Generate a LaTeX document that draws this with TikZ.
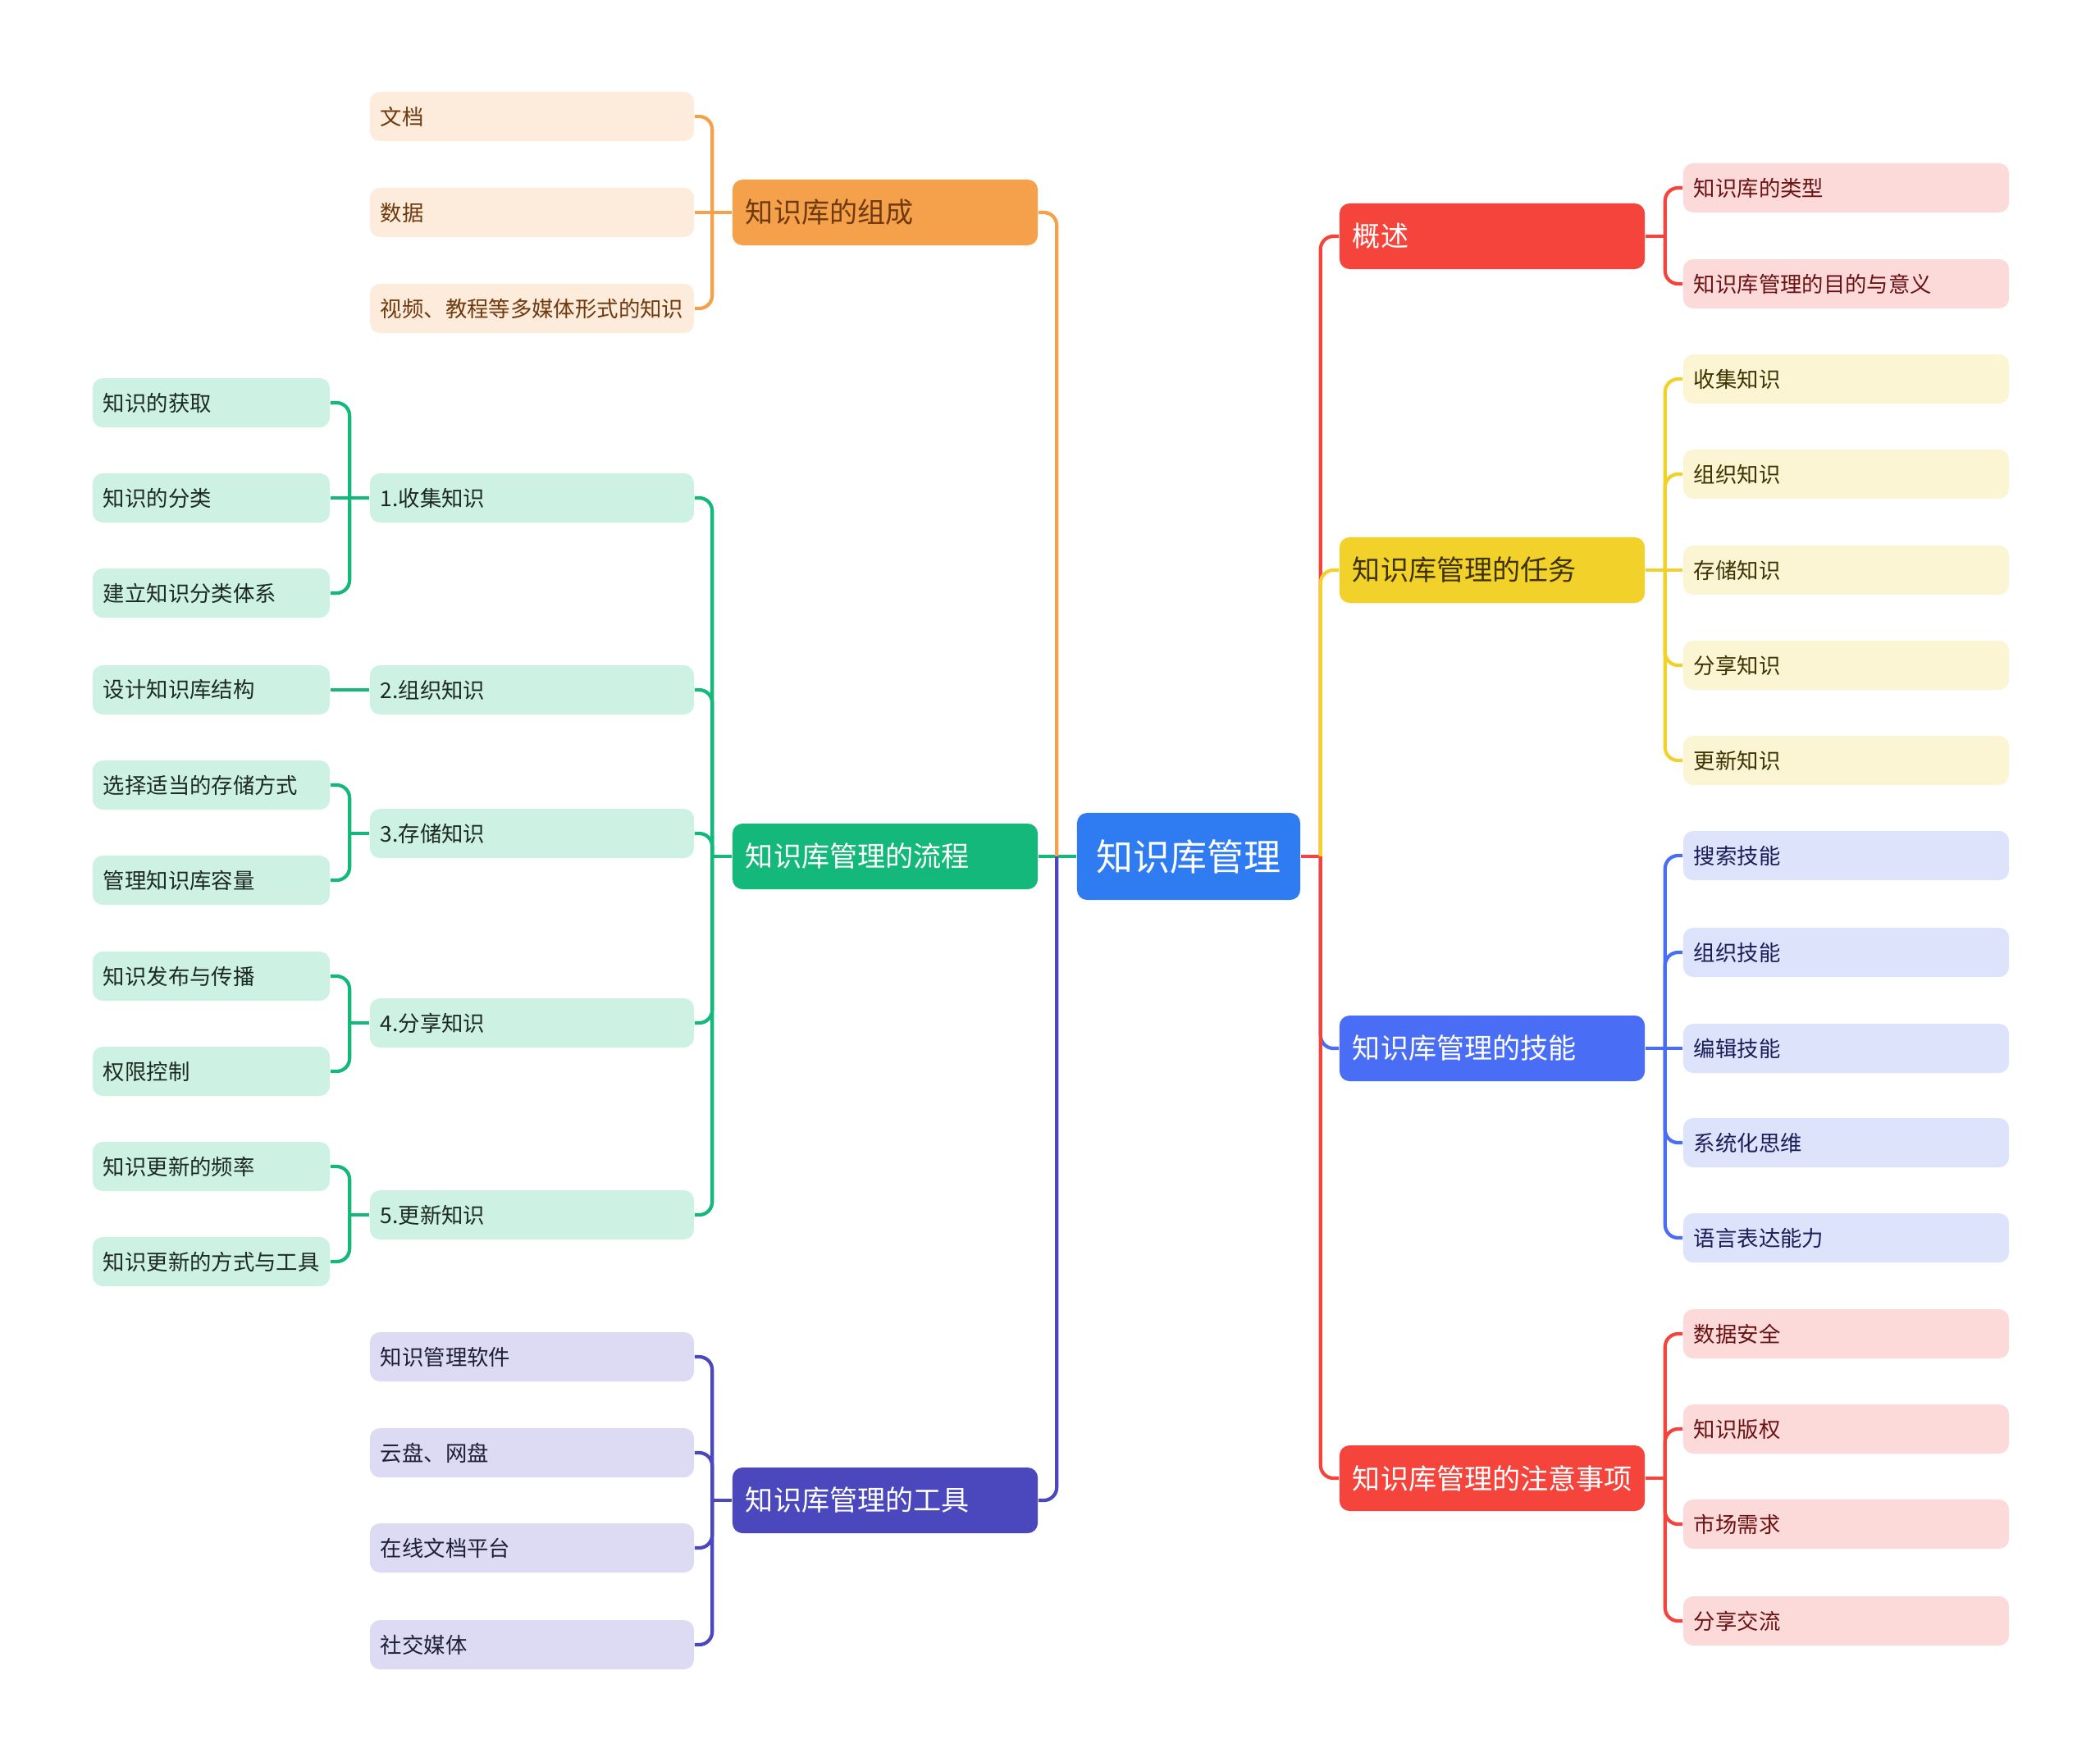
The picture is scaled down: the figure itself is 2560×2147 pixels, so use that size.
\documentclass[tikz,border=0pt]{standalone}
\usepackage{fontspec}
\usepackage{tikz}
\usetikzlibrary{positioning,calc}
\newfontfamily\cjk{Noto Sans CJK SC}
\definecolor{rootBlue}{HTML}{2E7BF2}
\definecolor{oMain}{HTML}{F5A04A}
\definecolor{oLight}{HTML}{FDEBDB}
\definecolor{oText}{HTML}{6E3A0E}
\definecolor{gMain}{HTML}{14B87A}
\definecolor{gLight}{HTML}{CDF1E2}
\definecolor{gText}{HTML}{1C2A22}
\definecolor{iMain}{HTML}{4B47BD}
\definecolor{iLight}{HTML}{DCDBF3}
\definecolor{iText}{HTML}{1F1F3A}
\definecolor{rMain}{HTML}{F5443C}
\definecolor{rLight}{HTML}{FDDADA}
\definecolor{rText}{HTML}{6B1212}
\definecolor{yMain}{HTML}{F2D12A}
\definecolor{yLight}{HTML}{FCF5D4}
\definecolor{yText}{HTML}{3D3300}
\definecolor{bMain}{HTML}{4A6DF6}
\definecolor{bLight}{HTML}{DCE3FB}
\definecolor{bText}{HTML}{1A1F5A}
\tikzset{
	rootbox/.style={
		fill=rootBlue, text=white, rounded corners=3.5pt,
		minimum width=2.72cm, minimum height=1.06cm,
		font=\cjk\fontsize{12.8}{15}\selectfont
	},
	mainbox/.style={
		rounded corners=3.5pt, inner xsep=0.16cm, inner ysep=0pt,
		text width=3.40cm, align=left, minimum height=0.8cm,
		font=\cjk\fontsize{9.7}{12}\selectfont
	},
	leafbox/.style={
		rounded corners=3.5pt, inner xsep=0.13cm, inner ysep=0pt,
		align=left, minimum height=0.6cm,
		font=\cjk\fontsize{7.5}{9}\selectfont
	},
	leafR/.style={leafbox, text width=3.71cm},
	leafM/.style={leafbox, text width=3.69cm},
	leafL/.style={leafbox, text width=2.63cm},
	link/.style={line width=1.2pt},
	elbow/.style={link, rounded corners=4.5pt}
}
\begin{document}
\begin{tikzpicture}[x=0.01cm, y=-0.01cm]
	\useasboundingbox (0,0) rectangle (2560,2147);
	% centre
	\node[rootbox] (root) at (1449,1044) {知识库管理};
	% main branches
	\node[mainbox, fill=oMain, text=oText] (zc) at (1079,259) {知识库的组成};
	\node[mainbox, fill=gMain, text=white] (lc) at (1079,1044) {知识库管理的流程};
	\node[mainbox, fill=iMain, text=white] (gj) at (1079,1829) {知识库管理的工具};
	\node[mainbox, fill=rMain, text=white] (gs) at (1819,288) {概述};
	\node[mainbox, fill=yMain, text=yText] (rw) at (1819,695) {知识库管理的任务};
	\node[mainbox, fill=bMain, text=white] (jn) at (1819,1278) {知识库管理的技能};
	\node[mainbox, fill=rMain, text=white] (zy) at (1819,1802) {知识库管理的注意事项};
	% right leaves
	\foreach \t/\y [count=\i] in {知识库的类型/229, 知识库管理的目的与意义/346}
		\node[leafR, fill=rLight, text=rText] (gs-\i) at (2250.5,\y) {\t};
	\foreach \t/\y [count=\i] in {收集知识/462, 组织知识/578, 存储知识/695, 分享知识/811, 更新知识/927}
		\node[leafR, fill=yLight, text=yText] (rw-\i) at (2250.5,\y) {\t};
	\foreach \t/\y [count=\i] in {搜索技能/1043, 组织技能/1161, 编辑技能/1278, 系统化思维/1393, 语言表达能力/1509}
		\node[leafR, fill=bLight, text=bText] (jn-\i) at (2250.5,\y) {\t};
	\foreach \t/\y [count=\i] in {数据安全/1626, 知识版权/1742, 市场需求/1858, 分享交流/1976}
		\node[leafR, fill=rLight, text=rText] (zy-\i) at (2250.5,\y) {\t};
	% left leaves
	\foreach \t/\y [count=\i] in {文档/142, 数据/259, 视频、教程等多媒体形式的知识/376}
		\node[leafM, fill=oLight, text=oText] (zc-\i) at (648.5,\y) {\t};
	\foreach \t/\y [count=\i] in {1.收集知识/607, 2.组织知识/841, 3.存储知识/1016, 4.分享知识/1247, 5.更新知识/1481}
		\node[leafM, fill=gLight, text=gText] (lc-\i) at (648.5,\y) {\t};
	\foreach \t/\y [count=\i] in {知识管理软件/1654, 云盘、网盘/1771, 在线文档平台/1887, 社交媒体/2005}
		\node[leafM, fill=iLight, text=iText] (gj-\i) at (648.5,\y) {\t};
	% outer leaves of the process
	\foreach \t/\y [count=\i] in {知识的获取/491, 知识的分类/607, 建立知识分类体系/723}
		\node[leafL, fill=gLight, text=gText] (sj-\i) at (257.5,\y) {\t};
	\node[leafL, fill=gLight, text=gText] (zz-1) at (257.5,841) {设计知识库结构};
	\foreach \t/\y [count=\i] in {选择适当的存储方式/957, 管理知识库容量/1073}
		\node[leafL, fill=gLight, text=gText] (cc-\i) at (257.5,\y) {\t};
	\foreach \t/\y [count=\i] in {知识发布与传播/1190, 权限控制/1306}
		\node[leafL, fill=gLight, text=gText] (fx-\i) at (257.5,\y) {\t};
	\foreach \t/\y [count=\i] in {知识更新的频率/1422, 知识更新的方式与工具/1538}
		\node[leafL, fill=gLight, text=gText] (gx-\i) at (257.5,\y) {\t};
	% stubs to the buses
	\draw[link, gMain] (root.west) -- (lc.east);
	\draw[link, rMain] (root.east) -- ++(24,0) coordinate (root-r);
	\coordinate (root-l) at ($(root.west)+(-24,0)$);
	\draw[link, rMain] (gs.east) -- ++(24,0) coordinate (gs-b);
	\draw[link, yMain] (rw.east) -- (rw-3.west);
	\coordinate (rw-b) at ($(rw.east)+(24,0)$);
	\draw[link, bMain] (jn.east) -- (jn-3.west);
	\coordinate (jn-b) at ($(jn.east)+(24,0)$);
	\draw[link, rMain] (zy.east) -- ++(24,0) coordinate (zy-b);
	\draw[link, oMain] (zc.west) -- (zc-2.east);
	\coordinate (zc-b) at ($(zc.west)+(-24,0)$);
	\draw[link, gMain] (lc.west) -- ++(-24,0) coordinate (lc-b);
	\draw[link, iMain] (gj.west) -- ++(-24,0) coordinate (gj-b);
	\draw[link, gMain] (lc-1.west) -- (sj-2.east);
	\coordinate (sj-b) at ($(lc-1.west)+(-24,0)$);
	\draw[link, gMain] (lc-2.west) -- (zz-1.east);
	\draw[link, gMain] (lc-3.west) -- ++(-24,0) coordinate (cc-b);
	\draw[link, gMain] (lc-4.west) -- ++(-24,0) coordinate (fx-b);
	\draw[link, gMain] (lc-5.west) -- ++(-24,0) coordinate (gx-b);
	% elbows from the centre
	\draw[elbow, oMain] (root-l) |- (zc.east);
	\draw[elbow, iMain] (root-l) |- (gj.east);
	\draw[elbow, rMain] (root-r) |- (gs.west);
	\draw[elbow, yMain] (root-r) |- (rw.west);
	\draw[elbow, bMain] (root-r) |- (jn.west);
	\draw[elbow, rMain] (root-r) |- (zy.west);
	% elbows to the leaves
	\foreach \i in {1,2}
		\draw[elbow, rMain] (gs-b) |- (gs-\i.west);
	\foreach \i in {1,2,4,5}
		\draw[elbow, yMain] (rw-b) |- (rw-\i.west);
	\foreach \i in {1,2,4,5}
		\draw[elbow, bMain] (jn-b) |- (jn-\i.west);
	\foreach \i in {1,...,4}
		\draw[elbow, rMain] (zy-b) |- (zy-\i.west);
	\foreach \i in {1,3}
		\draw[elbow, oMain] (zc-b) |- (zc-\i.east);
	\foreach \i in {1,...,5}
		\draw[elbow, gMain] (lc-b) |- (lc-\i.east);
	\foreach \i in {1,...,4}
		\draw[elbow, iMain] (gj-b) |- (gj-\i.east);
	\foreach \i in {1,3}
		\draw[elbow, gMain] (sj-b) |- (sj-\i.east);
	\foreach \i in {1,2}
		\draw[elbow, gMain] (cc-b) |- (cc-\i.east);
	\foreach \i in {1,2}
		\draw[elbow, gMain] (fx-b) |- (fx-\i.east);
	\foreach \i in {1,2}
		\draw[elbow, gMain] (gx-b) |- (gx-\i.east);
\end{tikzpicture}
\end{document}
